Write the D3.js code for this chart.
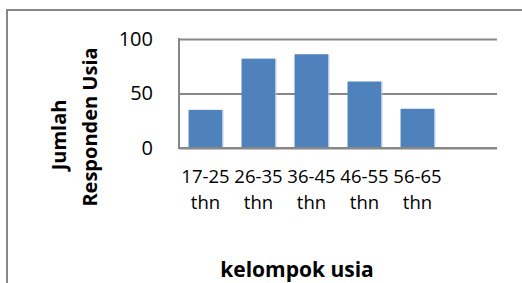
<!DOCTYPE html>
<html>
<head>
<meta charset="utf-8">
<script src="https://cdn.jsdelivr.net/npm/d3@7"></script>
<style>
    body { margin: 0; background: #fff; }
    svg { display: block; font-family: "Open Sans", sans-serif; }
</style>
</head>
<body>
<div class="usiaChart"></div>
<script>
// data
let categories = ['17-25 thn', '26-35 thn', '36-45 thn', '46-55 thn', '56-65 thn', ''];
let values = [35, 82, 86, 61, 36, null];
let yTicks = [0, 50, 100];
let yTitleLines = ['Jumlah', 'Responden Usia'];
let xTitle = 'kelompok usia';

let width = 522, height = 283;
let margins = {top: 39, right: 25, bottom: 135, left: 179};
let plotW = width - margins.left - margins.right,
    plotH = height - margins.top - margins.bottom;

let svg = d3.select('.usiaChart').append('svg')
    .attr('width', width)
    .attr('height', height);

// chart area frame (runs off the right and bottom of the picture)
svg.append('rect')
    .attr('x', 7)
    .attr('y', 10)
    .attr('width', 600)
    .attr('height', 400)
    .attr('fill', 'none')
    .attr('stroke', '#878787')
    .attr('stroke-width', 2);

let x = d3.scaleBand()
    .domain(categories)
    .range([0, plotW])
    .paddingInner(0.36)
    .paddingOuter(0.18);

let y = d3.scaleLinear()
    .domain([0, 100])
    .range([plotH, 0]);

let chartLayer = svg.append('g')
    .attr('transform', 'translate(' + margins.left + ',' + margins.top + ')');

// gridlines + y labels
let yAxisGroup = chartLayer.append('g')
    .call(d3.axisLeft(y).tickValues(yTicks).tickSize(-plotW).tickPadding(26));
yAxisGroup.select('.domain').remove();
yAxisGroup.selectAll('.tick line')
    .attr('stroke', '#878787')
    .attr('stroke-width', 2);
yAxisGroup.selectAll('.tick text')
    .attr('fill', '#000')
    .style('font-size', '20px')
    .style('font-family', '"Open Sans", sans-serif');

// left axis line
chartLayer.append('line')
    .attr('x1', 0).attr('x2', 0)
    .attr('y1', y(100) - 1).attr('y2', y(0) + 1)
    .attr('stroke', '#878787')
    .attr('stroke-width', 2);

// bars
let barData = categories.map((c, i) => ({cat: c, value: values[i]})).filter(d => d.value !== null);
chartLayer.selectAll('.bar')
    .data(barData)
    .enter().append('rect')
    .attr('class', 'bar')
    .attr('x', d => x(d.cat))
    .attr('y', d => y(d.value))
    .attr('width', x.bandwidth())
    .attr('height', d => y(0) - y(d.value))
    .attr('fill', '#4F81BD');
// thin light edge on the right side of each bar
chartLayer.selectAll('.barEdge')
    .data(barData)
    .enter().append('line')
    .attr('x1', d => x(d.cat) + x.bandwidth() + 0.5)
    .attr('x2', d => x(d.cat) + x.bandwidth() + 0.5)
    .attr('y1', d => y(d.value))
    .attr('y2', y(0) - 1)
    .attr('stroke', '#B9CDE5')
    .attr('stroke-width', 1);

// redraw baseline on top of bars
chartLayer.append('line')
    .attr('x1', -1).attr('x2', plotW)
    .attr('y1', y(0)).attr('y2', y(0))
    .attr('stroke', '#878787')
    .attr('stroke-width', 2);

// category labels, two lines each
let catLabels = chartLayer.selectAll('.catLabel')
    .data(categories.filter(c => c !== ''))
    .enter().append('text')
    .attr('class', 'catLabel')
    .attr('text-anchor', 'middle')
    .style('font-size', '18.5px')
    .attr('fill', '#000');
catLabels.each(function(c) {
    let parts = c.split(' ');
    let cx = x(c) + x.bandwidth() / 2;
    parts.forEach((p, j) => {
        d3.select(this).append('tspan')
            .attr('x', cx)
            .attr('y', plotH + 35 + j * 26)
            .text(p);
    });
});

// axis titles
svg.append('text')
    .attr('x', 297)
    .attr('y', 277)
    .attr('text-anchor', 'middle')
    .style('font-size', '21px')
    .style('font-weight', 'bold')
    .text(xTitle);

let yTitle = svg.append('g')
    .attr('transform', 'translate(0,127) rotate(-90)');
yTitleLines.forEach((line, i) => {
    yTitle.append('text')
        .attr('x', i === 0 ? -8 : 0)
        .attr('y', i === 0 ? 66 : 97)
        .attr('text-anchor', 'middle')
        .style('font-size', '20px')
        .style('font-weight', 'bold')
        .text(line);
});
</script>
</body>
</html>
